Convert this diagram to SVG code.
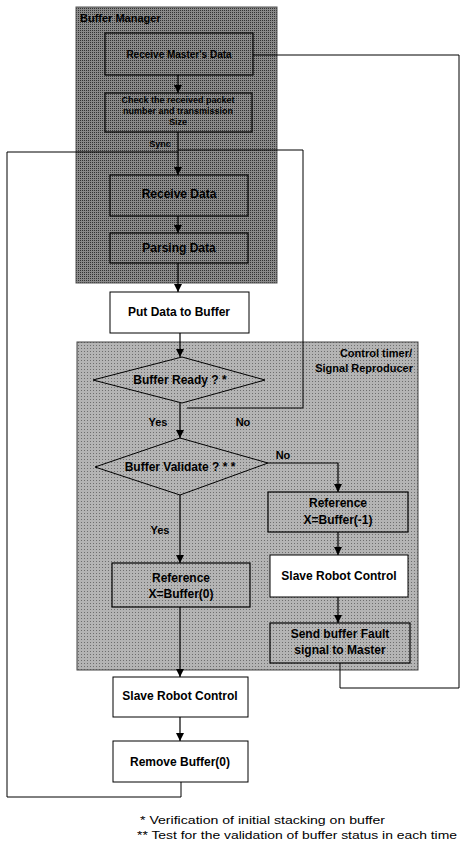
<svg xmlns="http://www.w3.org/2000/svg" width="460" height="842" viewBox="0 0 460 842">
<defs>
<marker id="ah" viewBox="0 0 10 10" refX="10" refY="5" markerWidth="8" markerHeight="8" markerUnits="userSpaceOnUse" orient="auto">
<path d="M0,0 L10,5 L0,10 z" fill="#000"/>
</marker>
<pattern id="dots" width="3" height="3" patternUnits="userSpaceOnUse">
<rect width="3" height="3" fill="#b4b4b4"/>
<rect width="1" height="1" fill="#6e6e6e"/>
</pattern>
<pattern id="dotsDark" width="2" height="2" patternUnits="userSpaceOnUse">
<rect width="2" height="2" fill="#8a8a8a"/>
<rect width="1" height="1" fill="#333"/>
</pattern>
</defs>
<style>
text{font-family:"Liberation Sans",Arial,sans-serif;fill:#000}
.b{font-weight:bold;font-size:12px;text-anchor:middle}
.s{font-weight:bold;font-size:10px;text-anchor:middle}
.n{font-size:11.5px}
.box{fill:#fff;stroke:#000;stroke-width:1}
.gbox{fill:url(#dotsDark);stroke:#000;stroke-width:1.2}
.gbox2{fill:url(#dots);stroke:#000;stroke-width:1.2}
.dia{fill:url(#dots);stroke:#000;stroke-width:1}
.c{fill:none;stroke:#000;stroke-width:1}
.a{fill:none;stroke:#000;stroke-width:1.2;marker-end:url(#ah)}
</style>
<rect width="460" height="842" fill="#fff"/>

<g id="buffer-manager">
<rect x="76" y="7" width="201" height="276" fill="url(#dotsDark)" stroke="#555" stroke-width="1"/>
<text x="80" y="22" style="font-weight:bold;font-size:11px">Buffer Manager</text>
</g>
<g id="control-timer">
<rect x="77" y="342" width="341" height="328" fill="url(#dots)" stroke="#444" stroke-width="1"/>
<text x="412" y="357" style="font-weight:bold;font-size:11px;text-anchor:end">Control timer/</text>
<text x="413" y="372" style="font-weight:bold;font-size:11px;text-anchor:end">Signal Reproducer</text>
</g>

<g id="connectors">
<path class="a" d="M178,75 L178,93"/>
<path class="a" d="M178,132 L178,175"/>
<path class="a" d="M178,216 L178,233"/>
<path class="a" d="M178,263 L178,292"/>
<path class="a" d="M180,333 L180,357"/>
<path class="a" d="M180,403 L180,438"/>
<path class="a" d="M268,463 L338,463 L338,492"/>
<path class="a" d="M338,532 L338,555"/>
<path class="a" d="M338,597 L338,623"/>
<path class="a" d="M180,495 L180,563"/>
<path class="a" d="M180,607 L180,677"/>
<path class="a" d="M180,717 L180,741"/>
<path class="c" d="M181,782 L181,797 L7,797 L7,152 L178,152"/>
<path class="c" d="M187,408 L303,408 L303,150 L178,150"/>
<path class="c" d="M340,663 L340,688 L459,688 L459,55 L253,55"/>
</g>

<g id="n-receive-master">
<rect class="gbox" x="105" y="33" width="148" height="42"/>
<text class="s" x="179" y="58">Receive Master's Data</text>
</g>
<g id="n-check">
<rect class="gbox" x="105" y="93" width="147" height="39"/>
<text class="s" x="178" y="103" style="font-size:9px">Check the received packet</text>
<text class="s" x="178" y="114" style="font-size:9px">number and transmission</text>
<text class="s" x="178" y="125" style="font-size:9px">Size</text>
</g>
<text class="s" x="160" y="147" style="font-size:9px">Sync</text>
<g id="n-receive-data">
<rect class="gbox" x="110" y="175" width="138" height="41"/>
<text class="b" x="179" y="198">Receive Data</text>
</g>
<g id="n-parsing">
<rect class="gbox" x="110" y="233" width="138" height="30"/>
<text class="b" x="179" y="252">Parsing Data</text>
</g>
<g id="n-put-data">
<rect class="box" x="110" y="292" width="139" height="41"/>
<text class="b" x="179" y="316">Put Data to Buffer</text>
</g>
<g id="n-buffer-ready">
<polygon class="dia" points="182,357 265,380 182,403 93,380"/>
<text class="b" x="180" y="384">Buffer Ready ? *</text>
<text x="158" y="426" style="font-weight:bold;font-size:11px;text-anchor:middle">Yes</text>
<text x="243" y="426" style="font-weight:bold;font-size:11px;text-anchor:middle">No</text>
</g>
<g id="n-buffer-validate">
<polygon class="dia" points="180,438 268,463 180,495 95,467"/>
<text class="b" x="180" y="471">Buffer Validate ? * *</text>
<text x="283" y="459" style="font-weight:bold;font-size:11px;text-anchor:middle">No</text>
<text x="160" y="534" style="font-weight:bold;font-size:11px;text-anchor:middle">Yes</text>
</g>
<g id="n-ref-minus1">
<rect class="gbox2" x="268" y="492" width="140" height="40"/>
<text class="b" x="338" y="507">Reference</text>
<text class="b" x="338" y="524">X=Buffer(-1)</text>
</g>
<g id="n-slave-right">
<rect class="box" x="270" y="555" width="138" height="42"/>
<text class="b" x="339" y="580">Slave Robot Control</text>
</g>
<g id="n-send-fault">
<rect class="gbox2" x="270" y="623" width="140" height="40"/>
<text class="b" x="340" y="638">Send buffer Fault</text>
<text class="b" x="340" y="654">signal to Master</text>
</g>
<g id="n-ref-0">
<rect class="gbox2" x="112" y="563" width="138" height="44"/>
<text class="b" x="181" y="582">Reference</text>
<text class="b" x="181" y="598">X=Buffer(0)</text>
</g>
<g id="n-slave-left">
<rect class="box" x="113" y="677" width="135" height="40"/>
<text class="b" x="180" y="700">Slave Robot Control</text>
</g>
<g id="n-remove">
<rect class="box" x="113" y="741" width="135" height="41"/>
<text class="b" x="180" y="766">Remove Buffer(0)</text>
</g>

<g id="notes">
<text class="n" x="140" y="824" textLength="245" lengthAdjust="spacingAndGlyphs">* Verification of initial stacking on buffer</text>
<text class="n" x="137" y="839" textLength="320" lengthAdjust="spacingAndGlyphs">** Test for the validation of buffer status in each time</text>
</g>
</svg>
